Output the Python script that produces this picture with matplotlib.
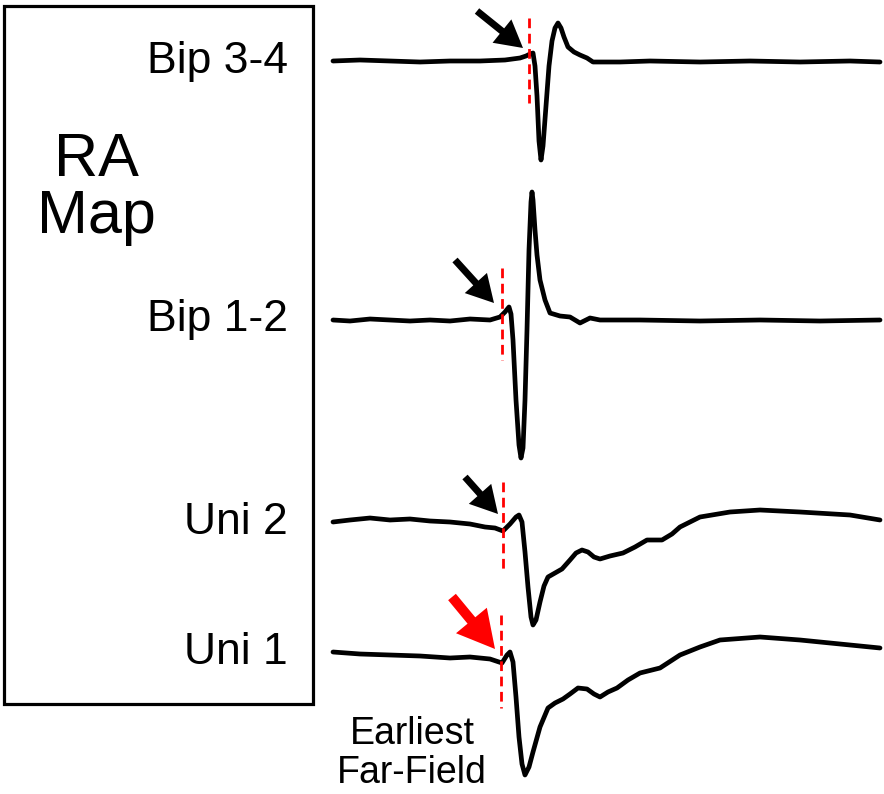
import matplotlib.pyplot as plt
import numpy as np

plt.rcParams["font.family"] = ["Liberation Sans", "DejaVu Sans"]

# channel names and baseline positions (pixel rows)
channels = ["Bip 3-4", "Bip 1-2", "Uni 2", "Uni 1"]
baselines = [61, 320, 522, 652]

# traces: time (px) and deflection (px, positive = down)
t_bip34 = [333, 360, 390, 420, 450, 480, 505, 520, 526, 530, 533, 535, 537, 539, 541, 543,
           546, 549, 552, 555, 558, 561, 564, 568, 574, 580, 587, 593, 605, 620, 650, 700,
           750, 800, 850, 880]
v_bip34 = [0, -1, 0, 1, 0, 0, -1, -3, -5, -7, -8, 5, 35, 80, 99, 85,
           45, 5, -20, -33, -38, -33, -24, -14, -9, -6, -3, 1, 1, 1, 0, 1,
           0, 1, 0, 1]

t_bip12 = [333, 350, 370, 390, 410, 430, 450, 470, 490, 500, 505, 509, 511, 513, 516, 519,
           521, 523, 525, 527, 529, 531, 532, 533, 535, 537, 540, 545, 550, 560, 570, 580,
           590, 600, 640, 700, 760, 820, 880]
v_bip12 = [0, 1, -1, 0, 1, 0, 1, -1, 0, -3, -8, -13, -6, 20, 80, 125,
           138, 128, 80, 10, -70, -118, -128, -120, -90, -65, -40, -20, -7, -4, -3, 3,
           -2, 0, 0, 1, 0, 1, 0]

t_uni2 = [333, 350, 370, 390, 410, 430, 450, 470, 485, 495, 503, 510, 516, 519, 522, 525,
          528, 531, 533, 536, 540, 544, 548, 555, 562, 570, 576, 582, 588, 594, 600, 610,
          623, 635, 647, 662, 672, 680, 700, 730, 760, 800, 850, 880]
v_uni2 = [0, -2, -4, -2, -3, -1, 0, 2, 5, 6, 9, 2, -5, -7, 0, 30,
          65, 95, 103, 98, 80, 64, 55, 51, 47, 38, 31, 28, 30, 35, 37, 34,
          31, 25, 18, 18, 12, 5, -5, -10, -12, -10, -7, -2]

t_uni1 = [333, 360, 390, 420, 450, 470, 490, 502, 507, 510, 513, 516, 519, 522, 525, 529,
          533, 540, 548, 555, 563, 570, 578, 587, 594, 600, 608, 617, 628, 640, 660, 680,
          700, 720, 760, 800, 850, 880]
v_uni1 = [0, 2, 3, 4, 6, 5, 7, 11, 3, 0, 10, 45, 85, 112, 123, 115,
          100, 75, 56, 51, 47, 42, 36, 37, 42, 45, 40, 36, 28, 21, 16, 3,
          -5, -12, -15, -12, -7, -4]

times = [t_bip34, t_bip12, t_uni2, t_uni1]
values = [v_bip34, v_bip12, v_uni2, v_uni1]

# earliest far-field onset per channel (px) and dashed-marker span
onsets = [529, 502, 503, 501]
marker_span = [(18, 103), (268, 360), (482, 573), (615, 708)]

# arrows: tail -> tip
arrow_tails = [(477, 11), (455, 260), (465, 477), (452, 597)]
arrow_tips = [(523, 48), (494, 303), (498, 514), (495, 649)]
arrow_colors = ["black", "black", "black", "red"]

W, H = 884, 794
fig = plt.figure(figsize=(W / 100, H / 100), dpi=100)
ax = fig.add_axes([0, 0, 1, 1])
ax.set_xlim(0, W)
ax.set_ylim(H, 0)
ax.axis("off")

# box on the left
ax.add_patch(plt.Rectangle((4, 6), 309, 698, fill=False, lw=2.3, ec="black"))
ax.text(96, 160, "RA", fontsize=44, ha="center", va="center")
ax.text(96, 217, "Map", fontsize=44, ha="center", va="center")

for name, base, t, v in zip(channels, baselines, times, values):
    y = base + np.array(v)
    ax.plot(t, y, color="black", lw=3.4, solid_joinstyle="round", solid_capstyle="round")
    ax.text(288, base, name, fontsize=32, ha="right", va="center")

for x, (y0, y1) in zip(onsets, marker_span):
    ax.plot([x, x], [y0, y1], color="red", lw=2.0, ls=(0, (3.5, 2)))

for (x0, y0), (x1, y1), c in zip(arrow_tails, arrow_tips, arrow_colors):
    big = c == "red"
    ax.arrow(x0, y0, x1 - x0, y1 - y0, width=10 if big else 7,
             head_width=40 if big else 30, head_length=37 if big else 27,
             length_includes_head=True, color=c, lw=0)

ax.text(412, 734, "Earliest", fontsize=27, ha="center", va="center")
ax.text(412, 773, "Far-Field", fontsize=27, ha="center", va="center")

fig.savefig("out.png", dpi=100)
